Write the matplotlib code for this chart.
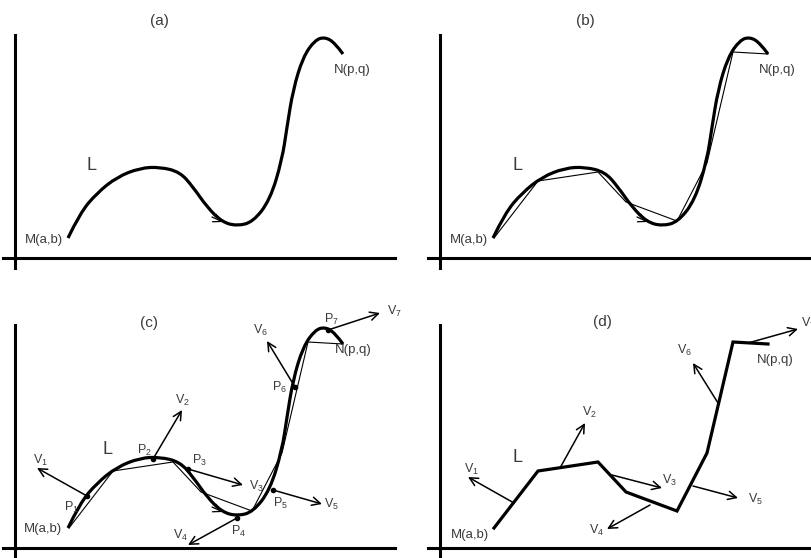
import numpy as np
import matplotlib.pyplot as plt
from matplotlib.path import Path
from matplotlib.patches import PathPatch

plt.rcParams['font.family'] = ['Liberation Sans', 'DejaVu Sans']
plt.rcParams['mathtext.default'] = 'regular'

# curva L (coordenadas en px dentro del panel (a))
curve_x = [68, 80, 97, 117, 140, 160, 180, 193, 207, 222, 237, 253, 270, 282, 287, 293, 303, 315, 325, 335, 343]
curve_y = [238, 213, 193, 177, 168, 167, 172, 187, 207, 222, 226, 222, 200, 160, 127, 90, 57, 40, 37, 43, 54]

# cuerdas / poligonal
chord_x = [69, 113, 173, 201, 252, 282, 308, 343]
chord_y = [238, 181, 172, 202, 221, 163, 52, 54]

# puntos P1..P7 y extremos de V1..V7 en (c)
p_x = [87, 153, 188, 237, 273, 295, 328]
p_y = [206, 169, 179, 228, 200, 97, 40]
v_x = [37, 182, 243, 188, 322, 267, 380]
v_y = [178, 120, 195, 255, 214, 51, 23]
p_lab_x = [71, 144, 199, 239, 280, 280, 331]
p_lab_y = [217, 160, 170, 241, 213, 97, 29]
v_lab_x = [40, 182, 256, 181, 331, 261, 394]
v_lab_y = [170, 110, 196, 245, 214, 40, 21]

# vectores en (d)
d_start_x = [89, 135, 187, 225, 268, 293, 323]
d_start_y = [213, 178, 185, 215, 196, 113, 53]
d_tip_x = [43, 160, 237, 182, 313, 268, 373]
d_tip_y = [187, 133, 198, 239, 208, 73, 39]
d_lab_x = [46, 164, 244, 172, 330, 260, 383]
d_lab_y = [179, 122, 190, 240, 209, 60, 33]

offsets = {'a': (0, 0), 'b': (425, 0), 'c': (0, 290), 'd': (425, 290)}
titles = {'a': (159, 21), 'b': (160, 21), 'c': (149, 33), 'd': (177, 32)}
l_pos = {'a': (92, 166), 'b': (92, 166), 'c': (107, 160), 'd': (92, 167)}
m_pos = {'a': (44, 240), 'b': (44, 240), 'c': (43, 239), 'd': (45, 245)}
n_pos = {'a': (352, 70), 'b': (352, 70), 'c': (353, 60), 'd': (350, 70)}

txt = '#3a3a3a'

fig = plt.figure(figsize=(8.11, 5.58), dpi=100)
ax = fig.add_axes([0, 0, 1, 1])
ax.set_xlim(0, 811)
ax.set_ylim(558, 0)
ax.axis('off')


def smooth_path(xs, ys, dx, dy):
    pts = [(x + dx, y + dy) for x, y in zip(xs, ys)]
    verts = [pts[0]]
    codes = [Path.MOVETO]
    for i in range(1, len(pts) - 1):
        if i < len(pts) - 2:
            end = ((pts[i][0] + pts[i + 1][0]) / 2, (pts[i][1] + pts[i + 1][1]) / 2)
        else:
            end = pts[i + 1]
        verts += [pts[i], end]
        codes += [Path.CURVE3, Path.CURVE3]
    return Path(verts, codes)


def arrow(x0, y0, x1, y1, lw=1.1):
    ax.annotate('', xy=(x1, y1), xytext=(x0, y0),
                arrowprops=dict(arrowstyle='->,head_length=0.6,head_width=0.3',
                                lw=lw, color='black', shrinkA=0, shrinkB=0))


for key, (dx, dy) in offsets.items():
    # ejes
    ax.plot([15 + dx, 15 + dx], [35 + dy, 268 + dy], color='black', lw=2.2)
    ax.plot([3 + dx, 395 + dx], [258 + dy, 258 + dy], color='black', lw=2.2)
    tx, ty = titles[key]
    ax.text(tx + dx, ty + dy, '(%s)' % key, fontsize=11, ha='center', va='center', color=txt)
    lx, ly = l_pos[key]
    ax.text(lx + dx, ly + dy, 'L', fontsize=13, ha='center', va='center', color=txt)
    mx, my = m_pos[key]
    ax.text(mx + dx, my + dy, 'M(a,b)', fontsize=9.5, ha='center', va='center', color=txt)
    nx, ny = n_pos[key]
    ax.text(nx + dx, ny + dy, 'N(p,q)', fontsize=9.5, ha='center', va='center', color=txt)

    if key != 'd':
        ax.add_patch(PathPatch(smooth_path(curve_x, curve_y, dx, dy), fill=False,
                               lw=2.3, edgecolor='black', capstyle='butt'))
        arrow(212 + dx, 217 + dy, 223 + dx, 222 + dy, lw=0.9)
    if key in ('b', 'c'):
        ax.plot(np.array(chord_x) + dx, np.array(chord_y) + dy, color='black', lw=0.8)
    if key == 'c':
        for i in range(7):
            ax.plot(p_x[i] + dx, p_y[i] + dy, 'o', color='black', ms=3)
            arrow(p_x[i] + dx, p_y[i] + dy, v_x[i] + dx, v_y[i] + dy)
            ax.text(p_lab_x[i] + dx, p_lab_y[i] + dy, 'P$_{%d}$' % (i + 1),
                    fontsize=9, ha='center', va='center', color=txt)
            ax.text(v_lab_x[i] + dx, v_lab_y[i] + dy, 'V$_{%d}$' % (i + 1),
                    fontsize=9, ha='center', va='center', color=txt)
    if key == 'd':
        ax.plot(np.array(chord_x) + dx, np.array(chord_y) + dy, color='black', lw=2.3,
                solid_joinstyle='miter')
        for i in range(7):
            arrow(d_start_x[i] + dx, d_start_y[i] + dy, d_tip_x[i] + dx, d_tip_y[i] + dy)
            ax.text(d_lab_x[i] + dx, d_lab_y[i] + dy, 'V$_{%d}$' % (i + 1),
                    fontsize=9, ha='center', va='center', color=txt)

fig.savefig('out.png', dpi=100)
